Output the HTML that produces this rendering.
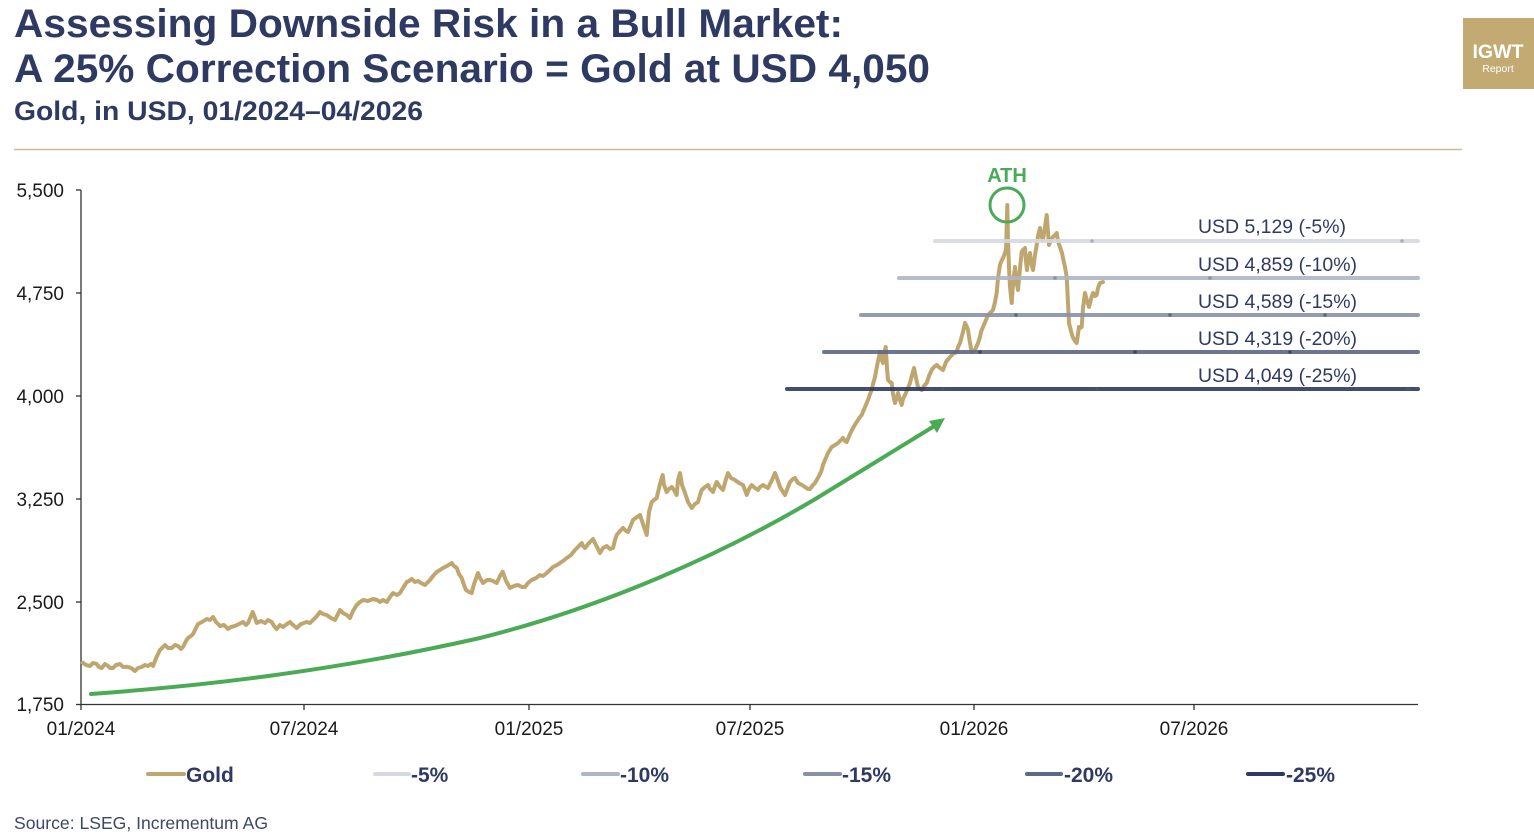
<!DOCTYPE html>
<html><head><meta charset="utf-8"><style>
html,body{margin:0;padding:0;background:#fff;}
svg{display:block;}
text{font-family:"Liberation Sans",Arial,sans-serif;}
</style></head><body>
<svg width="1534" height="836" viewBox="0 0 1534 836" xmlns="http://www.w3.org/2000/svg">
<rect width="1534" height="836" fill="#fff"/>
<!-- Title -->
<text x="14" y="37" font-size="40" font-weight="bold" fill="#2e3a62" textLength="829" lengthAdjust="spacingAndGlyphs">Assessing Downside Risk in a Bull Market:</text>
<text x="14" y="82" font-size="40" font-weight="bold" fill="#2e3a62" textLength="916" lengthAdjust="spacingAndGlyphs">A 25% Correction Scenario = Gold at USD 4,050</text>
<text x="14" y="120" font-size="27" font-weight="bold" fill="#2e3a62" textLength="409" lengthAdjust="spacingAndGlyphs">Gold, in USD, 01/2024–04/2026</text>
<line x1="14" y1="149.5" x2="1462" y2="149.5" stroke="#c9bd95" stroke-width="1.5"/>
<!-- Logo -->
<rect x="1463" y="18" width="71" height="71" fill="#c3aa72"/>
<text x="1498" y="58" font-size="19" font-weight="bold" fill="#fff" text-anchor="middle" textLength="51" lengthAdjust="spacingAndGlyphs">IGWT</text>
<text x="1498" y="72" font-size="10.5" fill="#fff" text-anchor="middle">Report</text>

<!-- Axes -->
<line x1="81" y1="190" x2="81" y2="704.5" stroke="#333" stroke-width="1.3"/>
<line x1="81" y1="704.5" x2="1418" y2="704.5" stroke="#333" stroke-width="1.3"/>
<g stroke="#333" stroke-width="1.3">
<line x1="76" y1="190" x2="81" y2="190"/>
<line x1="76" y1="293" x2="81" y2="293"/>
<line x1="76" y1="396" x2="81" y2="396"/>
<line x1="76" y1="499" x2="81" y2="499"/>
<line x1="76" y1="602" x2="81" y2="602"/>
<line x1="76" y1="704.5" x2="81" y2="704.5"/>
<line x1="81" y1="704" x2="81" y2="710"/>
<line x1="304" y1="704" x2="304" y2="710"/>
<line x1="529" y1="704" x2="529" y2="710"/>
<line x1="750" y1="704" x2="750" y2="710"/>
<line x1="974" y1="704" x2="974" y2="710"/>
<line x1="1194" y1="704" x2="1194" y2="710"/>
</g>
<g font-size="19" fill="#1a1a1a" text-anchor="end">
<text x="64" y="197">5,500</text>
<text x="64" y="300">4,750</text>
<text x="64" y="403">4,000</text>
<text x="64" y="506">3,250</text>
<text x="64" y="609">2,500</text>
<text x="64" y="711">1,750</text>
</g>
<g font-size="19" fill="#1a1a1a" text-anchor="middle">
<text x="81" y="735">01/2024</text>
<text x="304" y="735">07/2024</text>
<text x="529" y="735">01/2025</text>
<text x="750" y="735">07/2025</text>
<text x="974" y="735">01/2026</text>
<text x="1194" y="735">07/2026</text>
</g>

<!-- Green arrow -->
<path d="M91,694 C200,686 330,672 480,638 C600,608 720,556 817,498 C860,472 900,447 936,425" fill="none" stroke="#4aaa55" stroke-width="4" stroke-linecap="round"/>
<polygon points="945,418 929,421 937,433" fill="#4aaa55"/>

<!-- Gold series -->
<polyline fill="none" stroke="#bfa66e" stroke-width="4" stroke-linejoin="round" stroke-linecap="round" points="82.7,662.7 86,665 90,666 93,663 96.7,664 99,667 101.7,668 105,664 108,666 110,668 113,668 116,665 120,664 123,667 126.7,666.7 131,668 135,671 138,668 141.7,667 145,665 148,666 151,664 153,666 157,656 160,650 163,647 165,645 168,648 171.7,648 175,645 178,646 181,649 183,647 186,641 188,638 191,636 193,634 196,628 198,624 202,622 206.7,619 210,620 213,617 216,622 220,626 224,625 228,629 231,627 235,626 239,624 243,622 246,625 248,623 251,616 252.7,612 255,618 256.7,623 261,621 265,623 268,620 271.7,622 274,626 276.7,629 280,625 283,627 287,624 290,622 293,625 296.7,628 301,624 306.7,622 310,623 313,620 317,616 320,612 323,614 326.7,615 331,618 335,620 338,614 340,610 343,613 346.7,615 350,618 353,611 356.7,605 360,602 363,600 368,601 373,599 377,600 380,602 383,600 386.7,602 390,597 393,593 397,595 400,593 403,588 406.7,582 409,581 411.7,579 415,582 418,581 421,583 425,585 428,582 430,580 433,576 436.7,572 440,570 443,568 447,566 451.7,563 454,566 456.7,568 459,574 461.7,578 464,585 466,590 469,592 471.7,593 474,584 478,573 480,578 483,583 487,580 490,580 493,581 496.7,583 500,576 502.7,571.7 506,581 510,588 514,586 518,585 522,587 525,587 528,583 531.7,580 536,578 540,575 543,576 546.7,573 550,570 553,567 557,565 560,563 563,561 566.7,558 571,555 575,550 578,547 581.7,543 583,546 585,548 589,543 593,539 597,547 600,553 603,548 606.7,546 610,549 613,548 615,540 616.7,535 620,531 623,528 626,531 628,532 631,525 633,520 637,517 640,515 643,524 646.7,535 649,512 651.7,502 654,500 656.7,498 660,484 662.7,475 664,485 666.7,492 669,489 671.7,487 674,490 676.7,495 678,480 680,473 682,485 685,493 688,502 691.7,508 695,504 698,502 700,495 701.7,490 705,487 708,485 710,489 713,492 715,486 716.7,482 720,487 723,490 726,479 728,473 731,478 735,480 739,483 743,485 745,490 746.7,495 749,489 751.7,485 755,488 758,490 760,487 763,485 766,487 768,488 772,480 775,473 778,481 780,487 783,492 785,495 788,487 790,482 793,479 795,478 798,483 802,485 805,487 808,489 810,489 813,485 815,483 819,476 821.7,470 823,465 825,460 828,453 831.7,447 835,445 838,443 841,440 843,438 845,441 846.7,442 850,434 853,428 856,423 858,420 860,417 861.7,415 865,407 868,400 870,394 871.7,390 873,384 875,377 877,366 880,352 881,358 883,363 884,355 885.7,347 887,368 888,380 890,382 891.7,383 893,394 895,403 897,397 898,393 900,400 901.7,405 903,399 905,395 908,388 910,383 912,375 914,368 916,378 918,387 920,389 921.7,390 924,386 926.7,383 929,376 931.7,370 934,367 936.7,365 940,368 943,370 946,362 950,357 953,354 956.7,352 958,347 960,343 963,332 965,323 967,327 968,330 970,343 971.7,352 973,351 975,350 978,343 980,337 981,332 983,327 986,320 988,315 991,312 993,310 995,302 996.7,293 998,278 1000,265 1001,262 1003,258 1005,253 1006,250 1007.3,205 1008,240 1009,267 1010,287 1011.7,303 1013,284 1015,267 1016,279 1018,290 1020,268 1021.7,252 1023,250 1025,248 1026,262 1027,270 1028,261 1030,253 1031,262 1033,270 1035,255 1036.7,245 1038,236 1040,228 1041,235 1043,240 1045,227 1046.7,215 1048,232 1049,245 1051,240 1053,237 1055,235 1056.7,233 1058,241 1060,247 1062,253 1063,258 1065,267 1066.7,277 1068,303 1069,323 1071,331 1072.7,337 1075,341 1076.7,343 1078,334 1079,327 1080,328 1081.7,327 1083,308 1085,293 1087,301 1089,307 1091,299 1093,293 1095,296 1096.7,295 1098,288 1100,283 1103,282"/>

<!-- Reference lines -->
<g stroke-width="4" stroke-linecap="round" opacity="0.9">
<line x1="935" y1="241" x2="1418" y2="241" stroke="#d6d9e2"/>
<line x1="899" y1="278" x2="1418" y2="278" stroke="#b0b5c5"/>
<line x1="861" y1="315" x2="1418" y2="315" stroke="#8990a8"/>
<line x1="824" y1="352" x2="1418" y2="352" stroke="#5d6786"/>
<line x1="787" y1="389" x2="1418" y2="389" stroke="#2e3a62"/>
</g>
<g>
<circle cx="1092" cy="241" r="1.8" fill="#a9aebe"/>
<circle cx="1402" cy="241" r="1.8" fill="#a9aebe"/>
<circle cx="1055" cy="278" r="1.8" fill="#8a90a6"/>
<circle cx="1210" cy="278" r="1.8" fill="#8a90a6"/>
<circle cx="1016" cy="315" r="1.8" fill="#5d6786"/>
<circle cx="1170" cy="315" r="1.8" fill="#5d6786"/>
<circle cx="1325" cy="315" r="1.8" fill="#5d6786"/>
<circle cx="980" cy="352" r="1.8" fill="#3c4669"/>
<circle cx="1135" cy="352" r="1.8" fill="#3c4669"/>
<circle cx="1290" cy="352" r="1.8" fill="#3c4669"/>
<circle cx="943" cy="389" r="1.8" fill="#4a5476"/>
<circle cx="1097" cy="389" r="1.8" fill="#4a5476"/>
<circle cx="1408" cy="389" r="1.8" fill="#4a5476"/>
</g>
<g font-size="19" fill="#2e3a62">
<text x="1198" y="233" textLength="148" lengthAdjust="spacingAndGlyphs">USD 5,129 (-5%)</text>
<text x="1198" y="271" textLength="159" lengthAdjust="spacingAndGlyphs">USD 4,859 (-10%)</text>
<text x="1198" y="308" textLength="159" lengthAdjust="spacingAndGlyphs">USD 4,589 (-15%)</text>
<text x="1198" y="345" textLength="159" lengthAdjust="spacingAndGlyphs">USD 4,319 (-20%)</text>
<text x="1198" y="382" textLength="159" lengthAdjust="spacingAndGlyphs">USD 4,049 (-25%)</text>
</g>

<!-- ATH -->
<circle cx="1007" cy="205" r="17" fill="none" stroke="#4aaa55" stroke-width="3"/>
<text x="1007" y="182" font-size="20" font-weight="bold" fill="#4aaa55" text-anchor="middle">ATH</text>

<!-- Legend -->
<g stroke-width="4" stroke-linecap="round">
<line x1="148" y1="774" x2="184" y2="774" stroke="#bfa66e"/>
<line x1="375" y1="774" x2="409" y2="774" stroke="#d6d9e2"/>
<line x1="583" y1="774" x2="618" y2="774" stroke="#b0b5c5"/>
<line x1="805" y1="774" x2="840" y2="774" stroke="#8990a8"/>
<line x1="1027" y1="774" x2="1061" y2="774" stroke="#5d6786"/>
<line x1="1248" y1="774" x2="1283" y2="774" stroke="#2e3a62"/>
</g>
<g font-size="21" font-weight="bold" fill="#2e3a62">
<text x="186" y="782">Gold</text>
<text x="411" y="782">-5%</text>
<text x="620" y="782">-10%</text>
<text x="842" y="782">-15%</text>
<text x="1064" y="782">-20%</text>
<text x="1286" y="782">-25%</text>
</g>

<!-- Source -->
<text x="14" y="829" font-size="17.5" fill="#3d4766" textLength="254" lengthAdjust="spacingAndGlyphs">Source: LSEG, Incrementum AG</text>
</svg>
</body></html>
